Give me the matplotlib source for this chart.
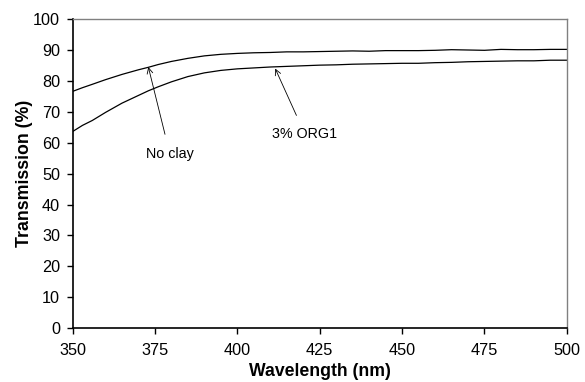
import numpy as np
import matplotlib
matplotlib.use('Agg')
import matplotlib.pyplot as plt

plt.rcParams['font.family'] = ['Liberation Sans', 'DejaVu Sans']

# Wavelength (nm)
wavelength = [350, 353, 356, 360, 365, 370, 373, 376, 380, 385, 390, 395, 400,
              405, 410, 415, 420, 425, 430, 435, 440, 445, 450, 455, 460,
              465, 470, 475, 480, 485, 490, 495, 500]
# Transmission (%) - no clay
no_clay = [76.6, 77.8, 78.9, 80.4, 82.1, 83.6, 84.4, 85.3, 86.3, 87.3, 88.1, 88.6, 88.9,
           89.1, 89.2, 89.4, 89.4, 89.5, 89.6, 89.7, 89.6, 89.8, 89.8, 89.8, 89.9,
           90.1, 90.0, 89.9, 90.2, 90.1, 90.1, 90.2, 90.2]
# Transmission (%) - 3% ORG1
org1 = [63.6, 65.6, 67.2, 69.8, 72.8, 75.3, 76.8, 78.1, 79.7, 81.4, 82.6, 83.4, 83.9,
        84.2, 84.5, 84.7, 84.9, 85.1, 85.2, 85.4, 85.5, 85.6, 85.7, 85.7, 85.9,
        86.0, 86.2, 86.3, 86.4, 86.5, 86.5, 86.7, 86.7]

fig, ax = plt.subplots(figsize=(5.85, 3.82), dpi=100)
fig.subplots_adjust(left=0.124, right=0.969, top=0.950, bottom=0.141)

ax.plot(wavelength, no_clay, color='black', lw=0.9)
ax.plot(wavelength, org1, color='black', lw=0.9)

ax.annotate('No clay', xy=(373, 84.5), xytext=(379.5, 56.5),
            ha='center', va='center', fontsize=10.3,
            arrowprops=dict(arrowstyle='->', lw=0.6, color='black',
                            shrinkA=7, shrinkB=0))
ax.annotate('3% ORG1', xy=(411.5, 84.0), xytext=(420.5, 62.8),
            ha='center', va='center', fontsize=10.3,
            arrowprops=dict(arrowstyle='->', lw=0.6, color='black',
                            shrinkA=7, shrinkB=0))

ax.set_xlim(350, 500)
ax.set_ylim(0, 100)
ax.set_xticks(np.arange(350, 501, 25))
ax.set_yticks(np.arange(0, 101, 10))
ax.tick_params(direction='out', length=4, width=1, labelsize=11.7)
ax.tick_params(axis='x', pad=7)
ax.tick_params(axis='y', pad=5)

ax.set_xlabel('Wavelength (nm)', fontsize=12.7, fontweight='bold', labelpad=3)
ax.set_ylabel('Transmission (%)', fontsize=12.8, fontweight='bold', labelpad=0)

for side in ['left', 'bottom']:
    ax.spines[side].set_linewidth(1.2)
for side in ['top', 'right']:
    ax.spines[side].set_color('#808080')
    ax.spines[side].set_linewidth(1.0)

fig.savefig('out.png', dpi=100)
